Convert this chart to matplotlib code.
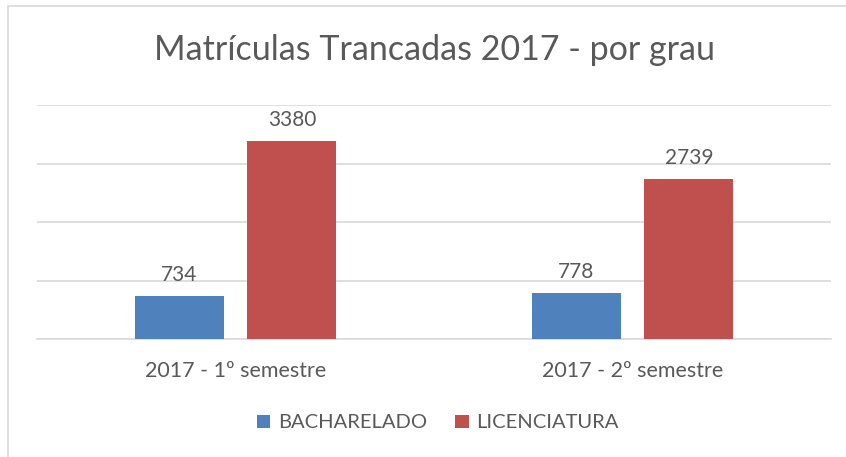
import numpy as np
import matplotlib.pyplot as plt
from matplotlib.patches import Rectangle

categories = ['2017 - 1º semestre', '2017 - 2º semestre']
bacharelado = [734, 778]
licenciatura = [3380, 2739]
series_names = ['BACHARELADO', 'LICENCIATURA']

plt.rcParams['font.family'] = ['Lato', 'DejaVu Sans']
text_color = '#595959'

W, H = 846, 457
fig = plt.figure(figsize=(W / 100, H / 100), dpi=100)

# outer chart frame (cut off at right and bottom)
fig.patches.append(Rectangle((8 / W, -0.1), 2, (H - 6) / H + 0.1, transform=fig.transFigure,
                             fill=False, edgecolor='#D9D9D9', linewidth=1.2))

ax = fig.add_axes([37 / W, 118 / H, 794 / W, 234 / H])
x = np.arange(len(categories))
width = 0.224
off = 0.142
b1 = ax.bar(x - off, bacharelado, width, color='#4F81BD', label=series_names[0], zorder=3)
b2 = ax.bar(x + off, licenciatura, width, color='#C0504D', label=series_names[1], zorder=3)

for bars in (b1, b2):
    for r in bars:
        ax.annotate(f'{int(r.get_height())}', (r.get_x() + r.get_width() / 2, r.get_height()),
                    xytext=(0, 8), textcoords='offset points', ha='center', va='bottom',
                    fontsize=15, color=text_color)

ax.set_xlim(-0.5, 1.5)
ax.set_ylim(0, 4000)
ax.set_yticks(np.arange(0, 4001, 1000))
ax.yaxis.grid(True, color='#D9D9D9', linewidth=1.2, zorder=0)
ax.tick_params(axis='y', left=False, labelleft=False)
ax.set_xticks(x)
ax.set_xticklabels(categories, fontsize=15.5, color=text_color)
ax.tick_params(axis='x', length=0, pad=16)
for s in ['top', 'right', 'left']:
    ax.spines[s].set_visible(False)
ax.spines['bottom'].set_color('#D9D9D9')
ax.spines['bottom'].set_linewidth(1.2)

fig.text(434 / W, 1 - 50 / H, 'Matrículas Trancadas 2017 - por grau', ha='center', va='center',
         fontsize=24.5, color=text_color)

fig.legend(handles=[b1, b2], loc='center', bbox_to_anchor=(438 / W, 1 - 423 / H), ncol=2,
           frameon=False, fontsize=14.5, labelcolor=text_color, handlelength=0.65, handleheight=0.65,
           handletextpad=0.4, columnspacing=1.4)

fig.savefig('out.png', dpi=100)
